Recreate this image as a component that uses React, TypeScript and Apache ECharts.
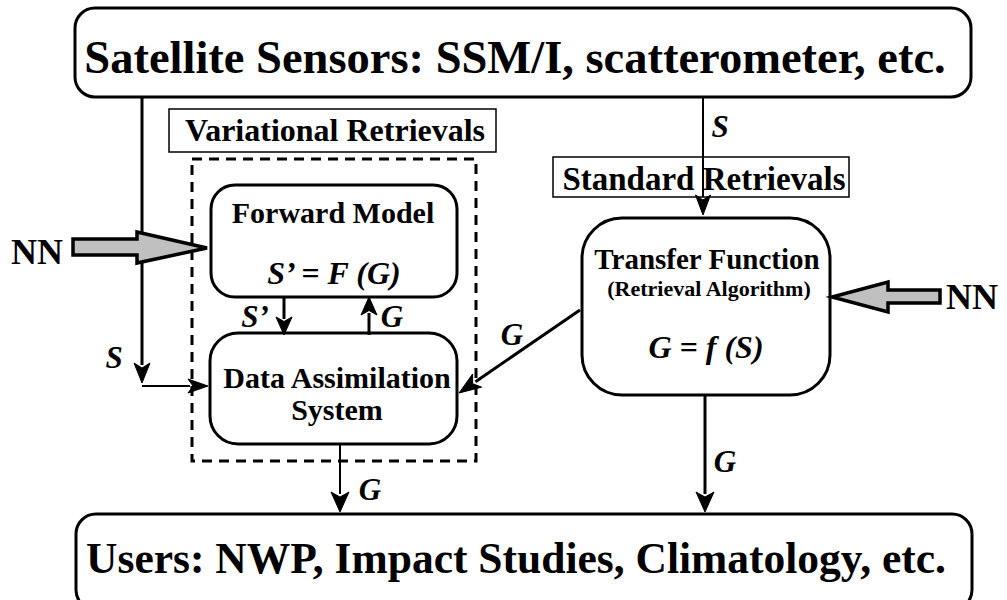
import React, { useEffect, useRef } from "react";
import * as echarts from "echarts";

// ---- Text content of the diagram ----
const TITLE_TOP = "Satellite Sensors: SSM/I, scatterometer, etc.";
const TITLE_BOTTOM = "Users: NWP, Impact Studies, Climatology, etc.";
const GROUP_LABELS = ["Variational Retrievals", "Standard Retrievals"];
const FORWARD_LINES = ["Forward Model", "S’ = F (G)"];
const DAS_LINES = ["Data Assimilation", "System"];
const TRANSFER_LINES = ["Transfer Function", "(Retrieval Algorithm)", "G = f (S)"];
const NN_LABEL = "NN";
const FLOW_LABELS = ["S", "S", "S’", "G", "G", "G", "G"];

const FAMILY = "Liberation Serif";

function txt(t: string, x: number, y: number, size: number, italic = false) {
  return {
    type: "text",
    x,
    y,
    z: 20,
    style: {
      text: t,
      font: `${italic ? "italic " : ""}bold ${size}px ${FAMILY}`,
      fill: "#000",
      align: "center",
      verticalAlign: "middle",
      legacy: false,
    },
  };
}

function box(x: number, y: number, w: number, h: number, r: number, lw: number, dash?: number[]) {
  return {
    type: "rect",
    z: 5,
    shape: { x, y, width: w, height: h, r },
    style: { fill: dash ? "none" : "#fff", stroke: "#000", lineWidth: lw, lineDash: dash },
  };
}

function line(x1: number, y1: number, x2: number, y2: number, lw: number) {
  return {
    type: "line",
    z: 10,
    shape: { x1, y1, x2, y2 },
    style: { stroke: "#000", lineWidth: lw },
  };
}

function arrow(x1: number, y1: number, x2: number, y2: number, lw: number, hl: number, hw: number) {
  const dx = x2 - x1;
  const dy = y2 - y1;
  const len = Math.sqrt(dx * dx + dy * dy);
  const ux = dx / len;
  const uy = dy / len;
  const bx = x2 - ux * hl;
  const by = y2 - uy * hl;
  const px = -uy;
  const py = ux;
  return [
    line(x1, y1, bx + ux * 2, by + uy * 2, lw),
    {
      type: "polygon",
      z: 11,
      shape: {
        points: [
          [x2, y2],
          [bx + px * hw / 2, by + py * hw / 2],
          [bx + ux * hl * 0.25, by + uy * hl * 0.25],
          [bx - px * hw / 2, by - py * hw / 2],
        ],
      },
      style: { fill: "#000", stroke: "#000", lineWidth: 1 },
    },
  ];
}

function bigArrow(pts: number[][]) {
  return {
    type: "polygon",
    z: 12,
    shape: { points: pts },
    style: { fill: "#c0c0c0", stroke: "#000", lineWidth: 3.5, lineJoin: "miter" },
  };
}

export default function App() {
  const ref = useRef<HTMLDivElement>(null);
  useEffect(() => {
    document.body.style.margin = "0";
    const chart = echarts.init(ref.current!, null, { renderer: "svg" });
    const elements: any[] = [
      // main boxes
      box(75, 8, 896, 89, 20, 3),
      box(76, 514, 896, 96, 20, 3),
      box(169, 109, 327, 43, 0, 1.5),
      box(553, 157, 296, 40, 0, 1.5),
      box(192, 159, 284, 302, 0, 3, [10, 7]),
      box(211, 185, 246, 112, 24, 3),
      box(210, 333, 247, 111, 28, 3),
      box(582, 218, 248, 177, 40, 3),
      // connectors
      line(142, 97, 142, 240, 3),
      ...arrow(142, 240, 142, 383, 3, 20, 16),
      line(142, 386, 160, 386, 2),
      ...arrow(142, 386, 208, 386, 2, 20, 14),
      ...arrow(703, 97, 703, 215, 2, 20, 15),
      ...arrow(284, 297, 284, 335, 3, 18, 16),
      ...arrow(369, 335, 369, 297, 3, 18, 16),
      ...arrow(580, 310, 459, 393, 3, 22, 16),
      ...arrow(340, 444, 340, 512, 2, 20, 18),
      ...arrow(705, 395, 705, 512, 3, 20, 18),
      // NN arrows
      bigArrow([
        [73, 239], [137, 239], [137, 232], [207, 248], [137, 263], [137, 255], [73, 255],
      ]),
      bigArrow([
        [940, 290], [888, 290], [888, 282], [832, 297], [888, 312], [888, 303], [940, 303],
      ]),
      // texts
      txt(TITLE_TOP, 515, 57, 46.5),
      txt(TITLE_BOTTOM, 516, 558, 43.5),
      txt(GROUP_LABELS[0], 335, 130, 32),
      txt(GROUP_LABELS[1], 704, 179, 33),
      txt(FORWARD_LINES[0], 333, 212, 30),
      txt(FORWARD_LINES[1], 334, 273, 32, true),
      txt(DAS_LINES[0], 337, 377, 30),
      txt(DAS_LINES[1], 337, 409, 30),
      txt(TRANSFER_LINES[0], 707, 259, 29),
      txt(TRANSFER_LINES[1], 709, 288, 22),
      txt(TRANSFER_LINES[2], 706, 347, 32, true),
      txt(NN_LABEL, 37, 252, 36),
      txt(NN_LABEL, 972, 297, 36),
      txt(FLOW_LABELS[0], 720, 126, 31, true),
      txt(FLOW_LABELS[1], 114, 357, 31, true),
      txt(FLOW_LABELS[2], 255, 316, 31, true),
      txt(FLOW_LABELS[3], 392, 316, 31, true),
      txt(FLOW_LABELS[4], 512, 334, 31, true),
      txt(FLOW_LABELS[5], 370, 489, 31, true),
      txt(FLOW_LABELS[6], 725, 461, 31, true),
    ];
    chart.setOption({
      animation: false,
      backgroundColor: "#fff",
      graphic: { elements },
    });
    return () => chart.dispose();
  }, []);
  return <div ref={ref} style={{ width: 1007, height: 600 }} />;
}
